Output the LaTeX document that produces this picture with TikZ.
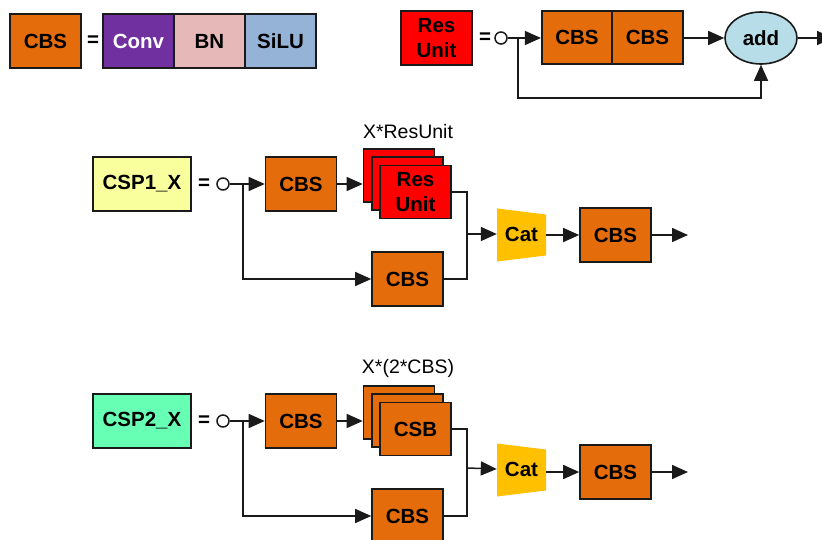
\documentclass[tikz,border=0pt]{standalone}
\usepackage{fontspec}
\setmainfont{Liberation Sans}
\usetikzlibrary{arrows.meta,shapes.geometric}
\definecolor{cbsorange}{HTML}{E46C0A}
\definecolor{resred}{HTML}{FF0000}
\definecolor{catyellow}{HTML}{FFC000}
\definecolor{addblue}{HTML}{B7DEE8}
\definecolor{cspyellow}{HTML}{F8FF9C}
\definecolor{cspgreen}{HTML}{66FFB3}
\definecolor{convpurple}{HTML}{7030A0}
\definecolor{bnpink}{HTML}{E6B9B8}
\definecolor{silublue}{HTML}{95B3D7}
\definecolor{edge}{HTML}{1A1A1A}
\tikzset{
  bigfont/.style={font=\bfseries\fontsize{20.5}{21}\selectfont},
  box/.style={draw=edge, line width=1.6pt, minimum width=71pt, minimum height=54pt, inner sep=0pt,
    bigfont, align=center},
  cbs/.style={box, fill=cbsorange},
  res/.style={box, fill=resred},
  arr/.style={line width=1.5pt, draw=edge, -{Triangle[length=16pt,width=14pt]}},
  ln/.style={line width=1.5pt, draw=edge},
  eq/.style={bigfont, inner sep=0pt},
  dot/.style={circle, draw=edge, line width=1.5pt, minimum size=12pt, inner sep=0pt, fill=white},
  catnode/.style={minimum width=49pt, minimum height=47pt, inner sep=0pt, bigfont},
  lbl/.style={font=\fontsize{19.5}{20}\selectfont, inner sep=0pt}
}
\begin{document}
\begin{tikzpicture}[x=1pt,y=-1pt]
\useasboundingbox (0,0) rectangle (822,540);
% ---------- legend CBS ----------
\node[cbs] (lcbs) at (45.5,41) {CBS};
\node[eq] (eq1) at (93,41) {=};
\node[box, fill=convpurple, text=white] (conv) at (138.5,41) {Conv};
\node[box, fill=bnpink] (bn) at (209.5,41) {BN};
\node[box, fill=silublue] (silu) at (280.5,41) {SiLU};
% ---------- legend Res Unit ----------
\node[res, font=\bfseries\fontsize{20.5}{25}\selectfont] (lres) at (436.5,38) {Res\\Unit};
\node[eq] (eq2) at (485,38) {=};
\node[dot] (c1) at (501,38) {};
\node[cbs, minimum width=70.5pt, minimum height=53pt] (ra) at (577,37.5) {CBS};
\node[cbs, minimum width=70.5pt, minimum height=53pt] (rb) at (647.5,37.5) {CBS};
\node[ellipse, draw=edge, line width=1.6pt, fill=addblue, minimum width=72pt, minimum height=52pt, inner sep=0pt,
  bigfont] (add) at (761,38) {add};
\coordinate (b1) at (518,38);
\coordinate (lp) at (518,98);
\coordinate (out0) at (833,38);
\draw[arr] (c1.east) -- (ra.west |- c1.east);
\draw[arr] (rb.east |- add.west) -- (add.west);
\draw[arr] (b1) -- (lp) -| (add.south);
\draw[arr] (add.east) -- (out0);
% ---------- CSP1_X ----------
\node[box, fill=cspyellow, minimum width=98pt] (csp1) at (142,184) {CSP1\_X};
\node[eq] (eq3) at (204,184) {=};
\node[dot] (c2) at (223,184) {};
\node[cbs] (p1a) at (301,184) {CBS};
\node[res, minimum height=53pt] (p1s1) at (399,175.5) {};
\node[res, minimum height=53pt] (p1s2) at (407.5,183.5) {};
\node[res, minimum height=53pt, font=\bfseries\fontsize{20.5}{25}\selectfont] (p1s3) at (415.5,192) {Res\\Unit};
\node[lbl] (l1) at (408,132) {X*ResUnit};
\node[cbs] (p1b) at (407.5,279) {CBS};
\fill[catyellow] (497,208.5) -- (546,214.5) -- (546,255.5) -- (497,261.5) -- cycle;
\node[catnode] (cat1) at (521.5,234) {Cat};
\node[cbs] (p1c) at (615.5,235) {CBS};
\coordinate (b2) at (243,184);
\coordinate (j1) at (467,234);
\coordinate (o1) at (688,235);
\draw[arr] (c2.east) -- (p1a.west);
\draw[arr] (b2) |- (p1b.west);
\draw[arr] (p1a.east) -- (p1a.east -| p1s1.west);
\draw[ln] (p1s3.east) -| (j1) |- (p1b.east);
\draw[arr] (j1) -- (cat1.west);
\draw[arr] (cat1.east |- p1c.west) -- (p1c.west);
\draw[arr] (p1c.east) -- (o1);
% ---------- CSP2_X ----------
\node[box, fill=cspgreen, minimum width=98pt] (csp2) at (142,421) {CSP2\_X};
\node[eq] (eq4) at (204,421) {=};
\node[dot] (c3) at (223,421) {};
\node[cbs] (p2a) at (301,421) {CBS};
\node[cbs, minimum height=53pt] (p2s1) at (399,412.5) {};
\node[cbs, minimum height=53pt] (p2s2) at (407.5,420.5) {};
\node[cbs, minimum height=53pt] (p2s3) at (415.5,429) {CSB};
\node[lbl] (l2) at (408,368) {X*(2*CBS)};
\node[cbs] (p2b) at (407.5,516) {CBS};
\fill[catyellow] (497,443.5) -- (546,449.5) -- (546,490.5) -- (497,496.5) -- cycle;
\node[catnode] (cat2) at (521.5,469) {Cat};
\node[cbs] (p2c) at (615.5,472) {CBS};
\coordinate (b3) at (243,421);
\coordinate (j2) at (467,468);
\coordinate (o2) at (688,472);
\draw[arr] (c3.east) -- (p2a.west);
\draw[arr] (b3) |- (p2b.west);
\draw[arr] (p2a.east) -- (p2a.east -| p2s1.west);
\draw[ln] (p2s3.east) -| (j2) |- (p2b.east);
\draw[arr] (j2) -- (cat2.west);
\draw[arr] (cat2.east |- p2c.west) -- (p2c.west);
\draw[arr] (p2c.east) -- (o2);
\end{tikzpicture}
\end{document}
